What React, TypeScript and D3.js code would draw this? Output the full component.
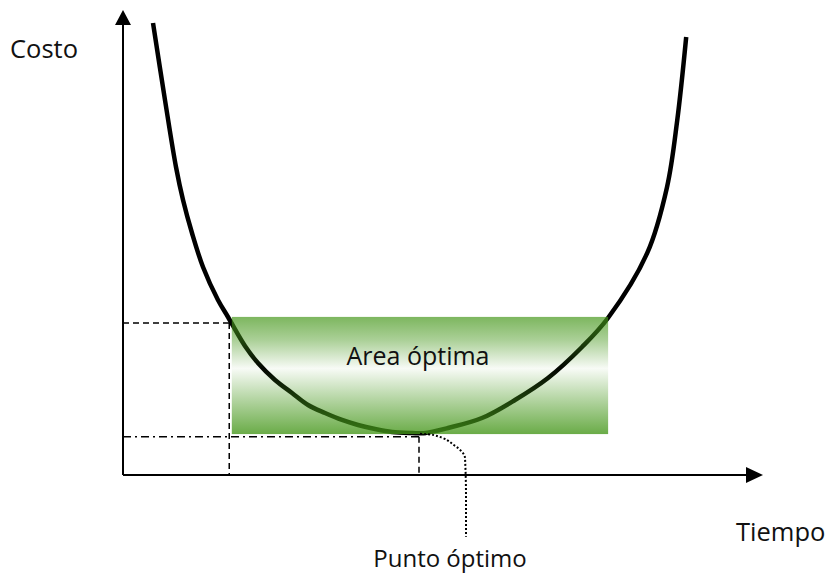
import React from "react";
import * as d3 from "d3";

// Cost curve (Tiempo, Costo) on 0–100 relative axes
const tiempo = [4.69, 6.56, 8.28, 9.38, 10.78, 12.5, 14.84, 16.41, 19.06, 21.09, 23.75, 26.41, 28.91, 31.56, 34.22, 36.72, 39.38, 42.03, 45.16, 47.0, 50.78, 56.09, 61.25, 66.41, 71.72, 75.78, 81.9, 85.0, 86.6, 88.0];
const costo = [97.2, 80.65, 66.24, 59.14, 52.04, 44.73, 37.63, 33.98, 27.74, 24.09, 20.43, 17.63, 15.05, 13.33, 11.83, 10.75, 9.89, 9.25, 9.03, 9.0, 10.11, 12.26, 16.13, 20.86, 27.53, 33.76, 47.7, 61.9, 76.3, 94.2];

// Optimal area bounds
const areaTiempo = [17.0, 75.8];
const areaCosto = [8.8, 34.0];
// Left bound of optimal area (dashed guide)
const boundTiempo = 16.6;
const boundCosto = 32.7;
// Optimal point
const optTiempo = 46.25;
const optCosto = 8.2;

const labels = { y: "Costo", x: "Tiempo", area: "Area óptima", point: "Punto óptimo" };

const W = 827;
const H = 581;
const FONT = "'Open Sans', sans-serif";

export default function App() {
  const x = d3.scaleLinear().domain([0, 100]).range([123, 763]);
  const y = d3.scaleLinear().domain([0, 100]).range([475, 10]);

  const pts: [number, number][] = tiempo.map((t, i) => [t, costo[i]]);
  const curve = d3
    .line<[number, number]>()
    .x((d) => x(d[0]))
    .y((d) => y(d[1]))
    .curve(d3.curveCatmullRom.alpha(0.5))(pts);

  const ox = x(0);
  const oy = y(0);

  const optX = x(optTiempo);
  const optY = y(optCosto);
  // leader from optimal point down to label
  const leaderPts: [number, number][] = [
    [optX + 1, optY - 3],
    [optX + 14, optY - 2],
    [optX + 36, optY + 9],
    [optX + 46, optY + 21],
    [optX + 47, optY + 60],
    [optX + 47, optY + 100],
  ];
  const leader = d3.line().curve(d3.curveMonotoneY)(leaderPts);

  const rx0 = x(areaTiempo[0]);
  const rx1 = x(areaTiempo[1]);
  const ry0 = y(areaCosto[1]);
  const ry1 = y(areaCosto[0]);

  return (
    <svg
      width={W}
      height={H}
      style={{ position: "absolute", left: 0, top: 0, background: "#fff" }}
    >
      <defs>
        <linearGradient id="areaGrad" x1="0" y1="0" x2="0" y2="1">
          <stop offset="0" stopColor="#45971a" stopOpacity={0.7} />
          <stop offset="0.2" stopColor="#45971a" stopOpacity={0.45} />
          <stop offset="0.44" stopColor="#45971a" stopOpacity={0.04} />
          <stop offset="0.7" stopColor="#45971a" stopOpacity={0.4} />
          <stop offset="1" stopColor="#45971a" stopOpacity={0.8} />
        </linearGradient>
      </defs>

      {/* guides */}
      <line x1={ox} x2={x(boundTiempo)} y1={y(boundCosto)} y2={y(boundCosto)} stroke="#000" strokeWidth={1.5} strokeDasharray="6,4" />
      <line x1={x(boundTiempo)} x2={x(boundTiempo)} y1={y(boundCosto)} y2={oy} stroke="#000" strokeWidth={1.5} strokeDasharray="6,4" />
      <line x1={ox} x2={optX} y1={optY} y2={optY} stroke="#000" strokeWidth={1.5} strokeDasharray="8,4,2,4" />
      <line x1={optX} x2={optX} y1={optY} y2={oy} stroke="#000" strokeWidth={1.5} strokeDasharray="6,4" />

      {/* curve */}
      <path d={curve || ""} fill="none" stroke="#000" strokeWidth={4.5} strokeLinecap="butt" />

      {/* optimal area */}
      <rect x={rx0} y={ry0} width={rx1 - rx0} height={ry1 - ry0} fill="url(#areaGrad)" />
      <text x={418} y={365} textAnchor="middle" fontFamily={FONT} fontSize={25} fill="#111">
        {labels.area}
      </text>

      {/* leader */}
      <path d={leader || ""} fill="none" stroke="#000" strokeWidth={2} strokeDasharray="2,2" />

      {/* axes */}
      <line x1={ox} x2={ox} y1={oy} y2={24} stroke="#000" strokeWidth={2} />
      <path d={`M${ox},${y(100)} L${ox - 8},${25} L${ox + 8},${25} Z`} fill="#000" />
      <line x1={ox} x2={747} y1={oy} y2={oy} stroke="#000" strokeWidth={2} />
      <path d={`M${x(100)},${oy} L${746},${oy - 8} L${746},${oy + 8} Z`} fill="#000" />

      {/* labels */}
      <text x={10} y={58} fontFamily={FONT} fontSize={25.5} fill="#111">{labels.y}</text>
      <text x={736} y={541} fontFamily={FONT} fontSize={25.5} fill="#111">{labels.x}</text>
      <text x={450} y={567} textAnchor="middle" fontFamily={FONT} fontSize={24} fill="#111">{labels.point}</text>
    </svg>
  );
}
